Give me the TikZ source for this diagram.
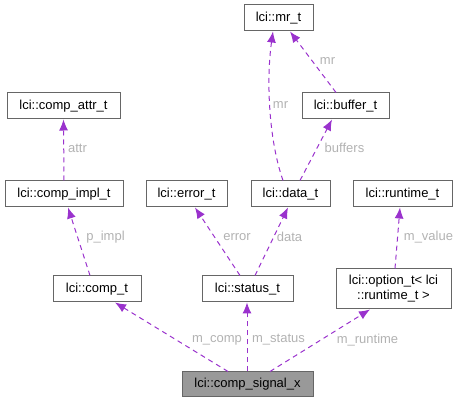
\documentclass[tikz,border=0pt]{standalone}
\usepackage{fontspec}
\setmainfont{Liberation Sans}
\usepackage{tikz}
\usetikzlibrary{arrows.meta, positioning}
\definecolor{edgepurple}{RGB}{154,50,205}
\definecolor{labelgray}{RGB}{178,178,178}
\definecolor{bordergray}{RGB}{102,102,102}
\definecolor{signalgray}{RGB}{153,153,153}

\begin{document}
\begin{tikzpicture}[x=1pt, y=-1pt,
    box/.style={draw=bordergray, line width=1pt, fill=white, inner sep=0pt,
                minimum height=26pt, font=\fontsize{13}{15}\selectfont, align=center},
    lbl/.style={text=labelgray, inner sep=0pt, font=\fontsize{13}{15}\selectfont},
    edge/.style={draw=edgepurple, line width=1pt, dash pattern=on 5pt off 4pt,
                 -{Latex[length=11pt, width=9pt, fill=edgepurple]}}]
    \useasboundingbox (0,0) rectangle (459,403);

    % Boxes, top row
    \node[box, minimum width=69pt] (mr) at (278.5,18) {lci::mr\_t};
    \node[box, minimum width=113pt] (attr) at (63.5,106) {lci::comp\_attr\_t};
    \node[box, minimum width=87pt] (buffer) at (345.5,106) {lci::buffer\_t};

    % Boxes, middle row
    \node[box, minimum width=118pt] (impl) at (64,194) {lci::comp\_impl\_t};
    \node[box, minimum width=81pt] (error) at (186.5,194) {lci::error\_t};
    \node[box, minimum width=79pt] (data) at (290.5,194) {lci::data\_t};
    \node[box, minimum width=99pt] (runtime) at (402.5,194) {lci::runtime\_t};

    % Boxes, lower row
    \node[box, minimum width=88pt] (comp) at (97,289) {lci::comp\_t};
    \node[box, minimum width=91pt] (status) at (247.5,289) {lci::status\_t};
    \node[box, minimum width=115pt, minimum height=40pt] (option) at (393.5,289)
        {lci::option\_t< lci\\::runtime\_t >};

    % The class itself
    \node[box, fill=signalgray, minimum width=131pt, minimum height=25pt] (signal)
        at (247.5,384.5) {lci::comp\_signal\_x};

    % Edges from comp_signal_x
    \draw[edge] ([xshift=-19.5pt]signal.north) -- ([xshift=18pt]comp.south);
    \draw[edge] ([xshift=-0.5pt]signal.north) -- ([xshift=-0.5pt]status.south);
    \draw[edge] ([xshift=22.5pt]signal.north) -- ([xshift=-23.5pt]option.south);

    % Edges of the members
    \draw[edge] ([xshift=-7pt]comp.north) -- ([xshift=4pt]impl.south);
    \draw[edge] (impl.north) -- (attr.south);
    \draw[edge] ([xshift=-7.5pt]status.north) -- ([xshift=8.5pt]error.south);
    \draw[edge] ([xshift=7.5pt]status.north) -- ([xshift=-2.5pt]data.south);
    \draw[edge] ([xshift=1.5pt]option.north) -- ([xshift=-2.5pt]runtime.south);
    \draw[edge] ([xshift=-7.5pt]data.north) .. controls +(-14,-40) and +(-7,50) .. ([xshift=-5.5pt]mr.south);
    \draw[edge] ([xshift=9.5pt]data.north) -- ([xshift=-13.5pt]buffer.south);
    \draw[edge] ([xshift=-9.5pt]buffer.north) -- ([xshift=11.5pt]mr.south);

    % Edge labels
    \node[lbl] (lcomp) at (217,340) {m\_comp};
    \node[lbl] (lstatus) at (278.5,340) {m\_status};
    \node[lbl] (lruntime) at (367.5,340) {m\_runtime};
    \node[lbl] (limpl) at (105.5,237) {p\_impl};
    \node[lbl] (lerror) at (237,237) {error};
    \node[lbl] (ldata) at (289.5,237) {data};
    \node[lbl] (lvalue) at (428.5,237) {m\_value};
    \node[lbl] (lattr) at (77.5,148) {attr};
    \node[lbl] (lbuffers) at (344.5,148) {buffers};
    \node[lbl] (lmrleft) at (280.5,105) {mr};
    \node[lbl] (lmrright) at (327.5,61) {mr};
\end{tikzpicture}
\end{document}
